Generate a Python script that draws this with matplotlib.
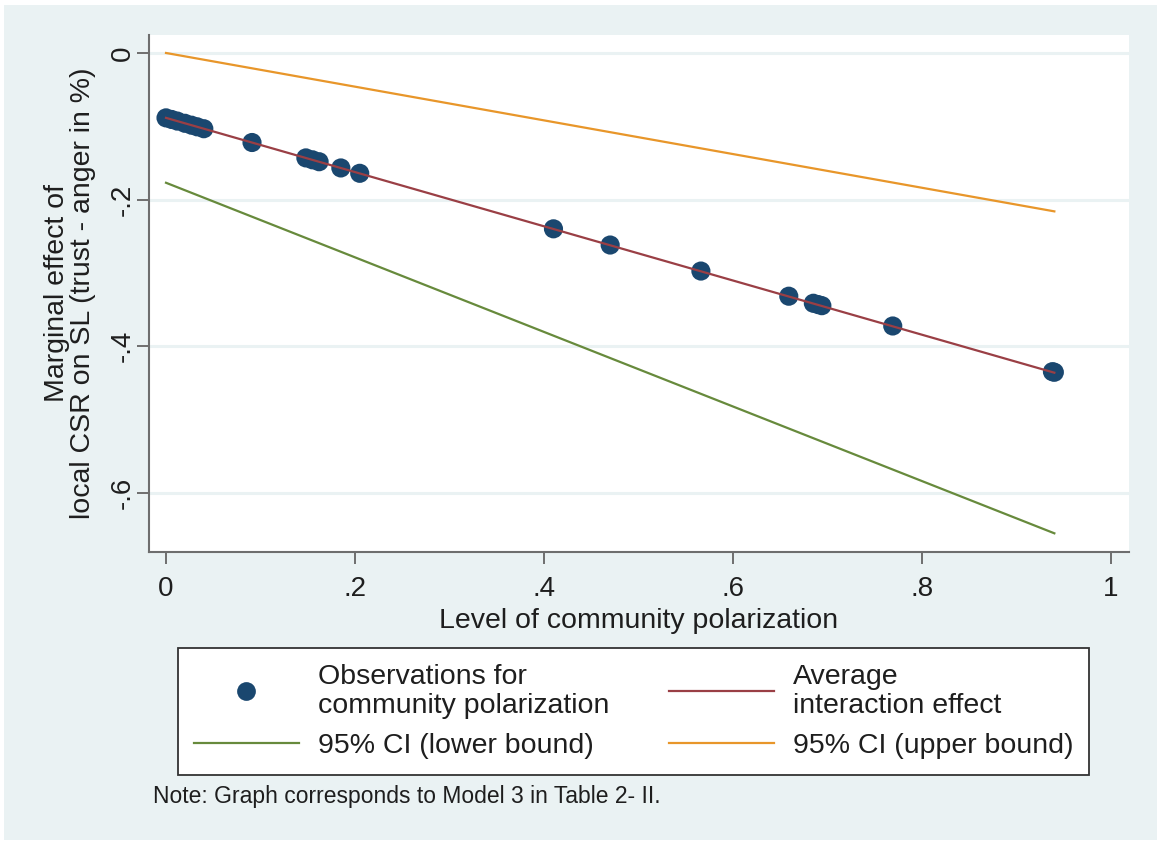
import matplotlib
matplotlib.use("Agg")
import matplotlib.pyplot as plt
from matplotlib.lines import Line2D
from matplotlib.patches import Rectangle

# ── Data ──────────────────────────────────────────────────────────────────────
# observed levels of community polarization and the marginal effect at each
polarization = [0.000, 0.006, 0.012, 0.020, 0.027, 0.033, 0.040, 0.091,
                0.148, 0.155, 0.162, 0.185, 0.205, 0.410, 0.470, 0.566,
                0.659, 0.685, 0.690, 0.694, 0.769, 0.938, 0.940]
effect_obs = [-0.0885, -0.0907, -0.0929, -0.0959, -0.0985, -0.1007, -0.1033,
              -0.1221, -0.1431, -0.1457, -0.1483, -0.1568, -0.1641, -0.2398,
              -0.2619, -0.2974, -0.3317, -0.3413, -0.3431, -0.3446, -0.3723,
              -0.4346, -0.4354]

# average interaction effect and 95% CI, evaluated over the observed range
line_x = [0.0, 0.94]
avg_effect = [-0.0885, -0.436]
ci_lower = [-0.177, -0.655]
ci_upper = [0.0, -0.216]

xticks = [0, 0.2, 0.4, 0.6, 0.8, 1.0]
xtick_labels = ["0", ".2", ".4", ".6", ".8", "1"]
yticks = [0, -0.2, -0.4, -0.6]
ytick_labels = ["0", "-.2", "-.4", "-.6"]

# ── Stata s2color-like styling ────────────────────────────────────────────────
plt.rcParams["font.family"] = ["Liberation Sans", "DejaVu Sans"]
BG = "#eaf2f3"
AXIS = "#6e6e6e"
TEXT = "#1e1e1e"
NAVY = "#1a476f"
MAROON = "#9a3f45"
GREEN = "#678a3c"
ORANGE = "#e8962a"

W, H = 1157, 844
fig = plt.figure(figsize=(W / 100, H / 100), dpi=100, facecolor="white")
# graph region (light blue) with a thin white margin at the top and left
fig.patches.append(Rectangle((4 / W, 4 / H), 1 - 4 / W, 1 - 9 / H,
                             transform=fig.transFigure, facecolor=BG,
                             edgecolor="none", zorder=-5))

ax = fig.add_axes([149 / W, 1 - 552 / H, (1129 - 149) / W, (552 - 35) / H])
ax.set_facecolor("white")

# horizontal grid at the y ticks
for yv in yticks:
    ax.axhline(yv, color=BG, lw=2.2, zorder=1)

ax.scatter(polarization, effect_obs, s=190, color=NAVY, edgecolors="none",
           zorder=3)
ax.plot(line_x, avg_effect, color=MAROON, lw=1.6, zorder=4)
ax.plot(line_x, ci_lower, color=GREEN, lw=1.6, zorder=2)
ax.plot(line_x, ci_upper, color=ORANGE, lw=1.6, zorder=2)

ax.set_xlim(-0.018, 1.019)
ax.set_ylim(-0.6805, 0.0245)

ax.set_xticks(xticks)
ax.set_xticklabels(xtick_labels)
ax.set_yticks(yticks)
ax.set_yticklabels(ytick_labels, rotation=90, va="center")

for side in ("top", "right"):
    ax.spines[side].set_visible(False)
for side in ("left", "bottom"):
    ax.spines[side].set_color(AXIS)
    ax.spines[side].set_linewidth(1.5)

ax.tick_params(axis="both", direction="out", length=8.6, width=1.4,
               color=AXIS, labelcolor=TEXT, labelsize=20)
ax.tick_params(axis="x", pad=9)
ax.tick_params(axis="y", pad=1)

ax.set_xlabel("Level of community polarization", fontsize=20.5, color=TEXT,
              labelpad=4)
fig.text(70 / W, 1 - 293 / H,
         "Marginal effect of\nlocal CSR on SL (trust - anger in %)",
         rotation=90, ha="center", va="center", multialignment="center",
         fontsize=20.5, color=TEXT, linespacing=0.98)

# ── Legend ────────────────────────────────────────────────────────────────────
handles = [
    Line2D([0], [0], marker="o", linestyle="none", markersize=13.5,
           markerfacecolor=NAVY, markeredgecolor="none"),
    Line2D([0], [0], color=GREEN, lw=1.6),
    Line2D([0], [0], color=MAROON, lw=1.6),
    Line2D([0], [0], color=ORANGE, lw=1.6),
]
labels = [
    "Observations for\ncommunity polarization",
    "95% CI (lower bound)",
    "Average\ninteraction effect",
    "95% CI (upper bound)",
]
leg = fig.legend(handles, labels, ncol=2, loc="upper left",
                 bbox_to_anchor=(178 / W, 1 - 648 / H),
                 fontsize=20.5, frameon=True, fancybox=False,
                 edgecolor="#333333", facecolor="white", framealpha=1,
                 handlelength=3.7, handletextpad=0.65, columnspacing=2.1,
                 borderpad=0.55, labelspacing=0.5, borderaxespad=0)
leg.get_frame().set_linewidth(1.3)
for t in leg.get_texts():
    t.set_color(TEXT)
    t.set_linespacing(1.16)

fig.text(153 / W, 1 - 797 / H,
         "Note: Graph corresponds to Model 3 in Table 2- II.",
         ha="left", va="center", fontsize=16.5, color=TEXT)

fig.savefig("out.png", dpi=100, facecolor=fig.get_facecolor())
